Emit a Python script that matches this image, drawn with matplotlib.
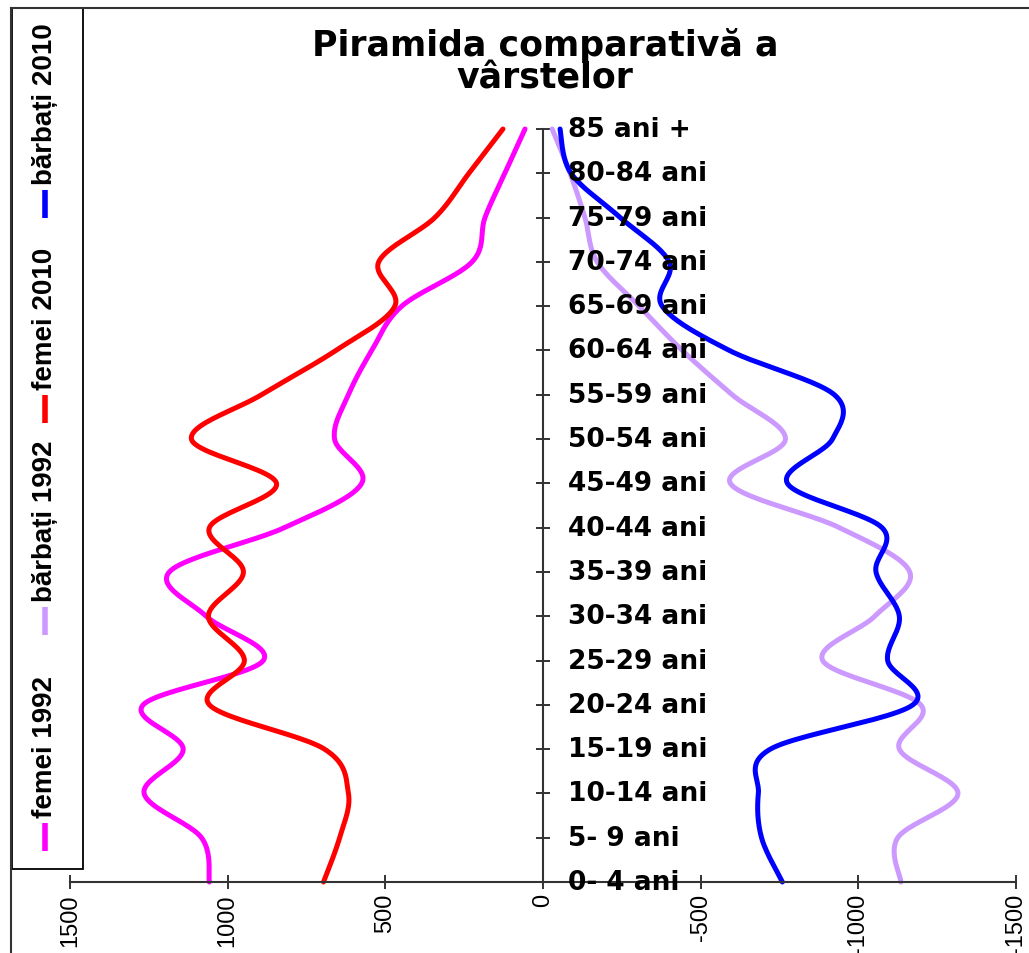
import numpy as np
import matplotlib
matplotlib.use('Agg')
import matplotlib.pyplot as plt
from matplotlib.lines import Line2D
from matplotlib.patches import Rectangle

ages = ['0- 4 ani', '5- 9 ani', '10-14 ani', '15-19 ani', '20-24 ani', '25-29 ani',
        '30-34 ani', '35-39 ani', '40-44 ani', '45-49 ani', '50-54 ani', '55-59 ani',
        '60-64 ani', '65-69 ani', '70-74 ani', '75-79 ani', '80-84 ani', '85 ani +']

femei_1992 = [1058, 1083, 1265, 1141, 1268, 887, 1068, 1185, 820, 575, 661, 617,
              543, 448, 225, 184, 121, 57]
barbati_1992 = [-1135, -1125, -1316, -1130, -1198, -887, -1052, -1163, -940, -594, -769, -600,
                -442, -305, -172, -133, -86, -29]
femei_2010 = [696, 645, 617, 693, 1058, 947, 1061, 950, 1058, 845, 1115, 893,
              657, 470, 521, 343, 235, 127]
barbati_2010 = [-759, -693, -683, -721, -1173, -1093, -1130, -1056, -1075, -775, -918, -924,
                -591, -378, -400, -245, -89, -54]

series = [('femei 1992', femei_1992, '#FF00FF'),
          ('bărbați 1992', barbati_1992, '#CC99FF'),
          ('femei 2010', femei_2010, '#FF0000'),
          ('bărbați 2010', barbati_2010, '#0000FF')]

xticks = [1500, 1000, 500, 0, -500, -1000, -1500]
xtick_labels = ['1500', '1000', '500', '0', '-500', '-1000', '-1500']

title = 'Piramida comparativă a\nvârstelor'

W, H = 1029, 954
narrow = ['Liberation Sans', 'DejaVu Sans']


def smooth(vals, n=24):
    # catmull-rom through the points, like excel's smoothed line
    sx = 141.0
    P = np.column_stack([np.asarray(vals, float) / sx, np.arange(len(vals), dtype=float)])
    P = np.vstack([P[0], P, P[-1]])
    t = np.linspace(0, 1, n, endpoint=False)[:, None]
    out = []
    for i in range(1, len(P) - 2):
        p0, p1, p2, p3 = P[i - 1], P[i], P[i + 1], P[i + 2]
        c1 = p1 + (p2 - p0) / 6
        c2 = p2 - (p3 - p1) / 6
        b = ((1 - t) ** 3) * p1 + 3 * ((1 - t) ** 2) * t * c1 + 3 * (1 - t) * t ** 2 * c2 + t ** 3 * p2
        out.append(b)
    out.append(P[-2][None, :])
    out = np.vstack(out)
    return out[:, 0] * sx, out[:, 1]


fig = plt.figure(figsize=(W / 100, H / 100), dpi=100)
ax = fig.add_axes([70 / W, 1 - 883 / H, (1016 - 70) / W, (883 - 130) / H])

for name, vals, col in series:
    xs, ys = smooth(vals)
    ax.plot(xs, ys, color=col, lw=3.6, solid_capstyle='round', clip_on=False)

ax.set_xlim(1500, -1500)
ax.set_ylim(0, len(ages) - 1)

for s in ['top', 'right']:
    ax.spines[s].set_visible(False)
ax.spines['left'].set_position(('data', 0))
ax.spines['left'].set_color('#333333')
ax.spines['bottom'].set_color('#333333')
ax.spines['left'].set_linewidth(1.5)
ax.spines['bottom'].set_linewidth(1.5)

ax.set_yticks(range(len(ages)))
ax.set_yticklabels([])
ax.tick_params(axis='y', direction='inout', length=10, width=1.4, color='#333333')
ax.set_xticks(xticks)
ax.set_xticklabels(xtick_labels, rotation=90, family=narrow, fontsize=17, va='top', ha='center')
ax.tick_params(axis='x', direction='inout', length=10, width=1.4, color='#333333', pad=3)

for i, lab in enumerate(ages):
    ax.text(-80, i, lab, ha='left', va='center', fontsize=19, fontweight='bold',
            family='DejaVu Sans', clip_on=False)

fig.text(545 / W, 1 - 62 / H, title, ha='center', va='center', fontsize=25,
         fontweight='bold', family='DejaVu Sans', linespacing=0.95)

# outer chart border (left and top)
fig.add_artist(Line2D([11 / W, 11 / W], [0, 1 - 9 / H], color='#333333', lw=1.5))
fig.add_artist(Line2D([11 / W, 1], [1 - 9 / H, 1 - 9 / H], color='#333333', lw=1.5))

# legend, rotated
fig.add_artist(Rectangle((12 / W, 1 - 870 / H), 71 / W, 861 / H, fill=False,
                         edgecolor='black', lw=1.3))
dash_pos = [838, 622, 410, 205]
for (name, vals, col), yc in zip(series, dash_pos):
    fig.add_artist(Line2D([45 / W, 45 / W], [1 - (yc + 14) / H, 1 - (yc - 14) / H],
                          color=col, lw=4, solid_capstyle='butt'))
    fig.text(45 / W, 1 - (yc - 20) / H, name, rotation=90, ha='center', va='bottom',
             fontsize=20, fontweight='bold', family=narrow)

fig.savefig('out.png', dpi=100)
